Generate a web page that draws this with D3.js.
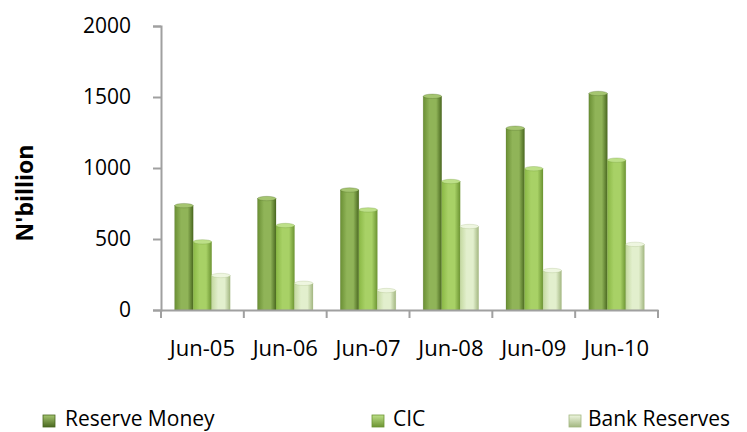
<!DOCTYPE html>
<html>
<head>
<meta charset="utf-8">
<script src="https://cdn.jsdelivr.net/npm/d3@7"></script>
<style>
  html, body { margin: 0; padding: 0; background: #fff; }
  svg { display: block; }
  text { font-family: "Open Sans", "Noto Sans", sans-serif; fill: #000; }
</style>
</head>
<body>
<svg id="chart" width="747" height="432"></svg>
<script>
const categories = ["Jun-05", "Jun-06", "Jun-07", "Jun-08", "Jun-09", "Jun-10"];
const seriesNames = ["Reserve Money", "CIC", "Bank Reserves"];
const reserveMoney = [735, 785, 845, 1505, 1280, 1525];
const cic = [480, 595, 705, 905, 995, 1055];
const bankReserves = [243, 188, 137, 588, 278, 462];
const yTicks = [0, 500, 1000, 1500, 2000];
const yTitle = "N'billion";

const seriesValues = [reserveMoney, cic, bankReserves];
const palettes = [
  { left: "#6a8f34", mid: "#90b458", right: "#4a6820", cap: "#a5c570" },
  { left: "#8ab845", mid: "#a8d166", right: "#6c9432", cap: "#bde088" },
  { left: "#c4d9a0", mid: "#e2efcd", right: "#a3b781", cap: "#eef6e0" }
];

const svg = d3.select("#chart");
const defs = svg.append("defs");
palettes.forEach((p, i) => {
  const g = defs.append("linearGradient").attr("id", "grad" + i)
    .attr("x1", "0%").attr("x2", "100%").attr("y1", "0%").attr("y2", "0%");
  g.append("stop").attr("offset", "0%").attr("stop-color", p.left);
  g.append("stop").attr("offset", "35%").attr("stop-color", p.mid);
  g.append("stop").attr("offset", "70%").attr("stop-color", p.mid);
  g.append("stop").attr("offset", "100%").attr("stop-color", p.right);
  const m = defs.append("linearGradient").attr("id", "mgrad" + i)
    .attr("x1", "0%").attr("x2", "0%").attr("y1", "0%").attr("y2", "100%");
  m.append("stop").attr("offset", "0%").attr("stop-color", p.cap);
  m.append("stop").attr("offset", "100%").attr("stop-color", p.right);
});

const x0 = d3.scaleBand().domain(categories).range([161, 658]).paddingInner(0).paddingOuter(0);
const x1 = d3.scaleBand().domain(seriesNames).range([0, x0.bandwidth()]).paddingInner(0).paddingOuter(0.74);
const y = d3.scaleLinear().domain([0, 2000]).range([310, 26]);

const axisColor = "#a0a0a0";

// bars
categories.forEach((c, ci) => {
  seriesNames.forEach((s, si) => {
    const v = seriesValues[si][ci];
    const bx = x0(c) + x1(s);
    const bw = x1.bandwidth();
    const top = y(v);
    const g = svg.append("g");
    g.append("rect")
      .attr("x", bx).attr("y", top)
      .attr("width", bw).attr("height", y(0) - top)
      .attr("fill", "url(#grad" + si + ")")
      .attr("stroke", palettes[si].right).attr("stroke-opacity", 0.35).attr("stroke-width", 0.6);
    g.append("ellipse")
      .attr("cx", bx + bw / 2).attr("cy", top)
      .attr("rx", bw / 2).attr("ry", 2.2)
      .attr("fill", palettes[si].cap)
      .attr("stroke", palettes[si].right).attr("stroke-opacity", 0.5).attr("stroke-width", 0.6);
  });
});

// y axis
const yAxis = d3.axisLeft(y).tickValues(yTicks).tickSize(8).tickPadding(22).tickFormat(d3.format("d"));
const ya = svg.append("g").attr("transform", "translate(161,0)").call(yAxis);
ya.select(".domain").attr("stroke", axisColor).attr("stroke-width", 2);
ya.selectAll(".tick line").attr("stroke", axisColor).attr("stroke-width", 2);
ya.selectAll(".tick text").attr("font-size", 21).attr("font-family", "Open Sans").attr("fill", "#000");

// x axis
const xAxis = d3.axisBottom(x0).tickSize(0).tickPadding(30);
const xa = svg.append("g").attr("transform", "translate(0,310)").call(xAxis);
xa.select(".domain").attr("stroke", axisColor).attr("stroke-width", 2);
xa.selectAll(".tick text").attr("font-size", 22).attr("font-family", "Open Sans").attr("fill", "#000");
// category boundary ticks
const bounds = categories.map(c => x0(c)).concat([x0(categories[categories.length - 1]) + x0.bandwidth()]);
xa.selectAll(".bound").data(bounds).enter().append("line")
  .attr("x1", d => d).attr("x2", d => d).attr("y1", 0).attr("y2", 8)
  .attr("stroke", axisColor).attr("stroke-width", 2);

// y title
svg.append("text")
  .attr("transform", "translate(33,193) rotate(-90)")
  .attr("text-anchor", "middle")
  .attr("font-family", "Liberation Sans, Arial, sans-serif")
  .attr("font-weight", "bold")
  .attr("font-size", 23)
  .text(yTitle);

// legend
const legendX = [43, 372, 569];
const legendTextX = [65, 393, 588];
seriesNames.forEach((s, i) => {
  svg.append("rect")
    .attr("x", legendX[i]).attr("y", 415).attr("width", 12).attr("height", 12)
    .attr("fill", "url(#mgrad" + i + ")")
    .attr("stroke", palettes[i].right).attr("stroke-width", 0.8);
  svg.append("text")
    .attr("x", legendTextX[i]).attr("y", 426)
    .attr("font-size", 21)
    .text(s);
});
</script>
</body>
</html>
